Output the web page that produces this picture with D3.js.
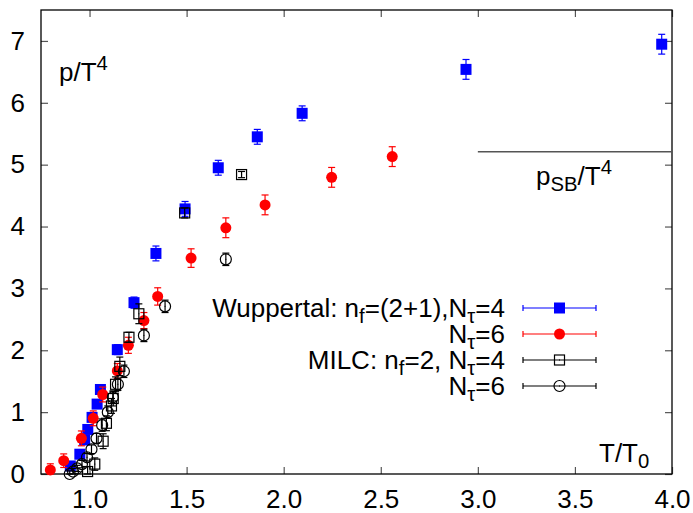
<!DOCTYPE html>
<html>
<head>
<meta charset="utf-8">
<script src="https://cdn.jsdelivr.net/npm/d3@7"></script>
<style>
  body { margin: 0; background: #fff; }
  svg text { font-family: "Liberation Sans", Arial, sans-serif; fill: #000; }
</style>
</head>
<body>
<div id="chart"></div>
<script>
// Wuppertal, nf=2+1, Nt=4 (blue squares)
const wup4T = [0.901, 0.95, 0.975, 0.991, 1.013, 1.039, 1.056, 1.143, 1.229, 1.342, 1.492, 1.663, 1.864, 2.095, 2.939, 3.947];
const wup4P = [0.13, 0.32, 0.55, 0.72, 0.915, 1.13, 1.366, 2.01, 2.77, 3.565, 4.285, 4.95, 5.45, 5.83, 6.54, 6.947];
const wup4E = [0.05, 0.05, 0.06, 0.06, 0.06, 0.07, 0.07, 0.08, 0.09, 0.12, 0.12, 0.12, 0.12, 0.12, 0.16, 0.16];

// Wuppertal, Nt=6 (red circles)
const wup6T = [0.798, 0.867, 0.958, 1.019, 1.068, 1.143, 1.2, 1.28, 1.351, 1.523, 1.702, 1.904, 2.247, 2.559];
const wup6P = [0.065, 0.215, 0.576, 0.9, 1.285, 1.666, 2.08, 2.48, 2.87, 3.49, 3.98, 4.35, 4.795, 5.13];
const wup6E = [0.1, 0.11, 0.12, 0.12, 0.12, 0.12, 0.13, 0.13, 0.14, 0.15, 0.16, 0.16, 0.16, 0.16];

// MILC, nf=2, Nt=4 (open squares)
const milc4T = [0.99, 1.027, 1.07, 1.087, 1.113, 1.122, 1.134, 1.156, 1.203, 1.254, 1.49, 1.783];
const milc4P = [0.04, 0.16, 0.53, 0.82, 1.10, 1.22, 1.45, 1.74, 2.21, 2.59, 4.22, 4.84];
const milc4E = [0.08, 0.1, 0.12, 0.12, 0.12, 0.12, 0.12, 0.15, 0.08, 0.16, 0.08, 0.05];

// MILC, Nt=6 (open circles)
const milc6T = [0.898, 0.915, 0.936, 0.961, 0.987, 1.01, 1.036, 1.065, 1.094, 1.12, 1.146, 1.177, 1.28, 1.389, 1.702];
const milc6P = [0.0, 0.04, 0.09, 0.16, 0.27, 0.40, 0.576, 0.79, 1.0, 1.24, 1.45, 1.66, 2.24, 2.71, 3.47];
const milc6E = [0.05, 0.05, 0.05, 0.06, 0.06, 0.07, 0.08, 0.1, 0.1, 0.1, 0.1, 0.1, 0.1, 0.1, 0.1];

// Stefan-Boltzmann limit and ticks
const sbValue = 5.209;
const sbRange = [3.0, 4.0];
const xTicks = [1.0, 1.5, 2.0, 2.5, 3.0, 3.5, 4.0];
const yTicks = [0, 1, 2, 3, 4, 5, 6, 7];

const width = 693, height = 513;
const plot = { left: 41, right: 672, top: 10, bottom: 474 };
const fontSize = 26;

const svg = d3.select("#chart").append("svg")
    .attr("width", width)
    .attr("height", height);

const x = d3.scaleLinear().domain([0.75, 4.0]).range([plot.left, plot.right]);
const y = d3.scaleLinear().domain([0, 7.5]).range([plot.bottom, plot.top]);

// ejes con ticks hacia dentro (estilo gnuplot)
const gx = svg.append("g")
    .attr("transform", `translate(0,${plot.bottom})`)
    .call(d3.axisBottom(x).tickValues(xTicks).tickFormat(d3.format(".1f")).tickSize(-7).tickPadding(16));
const gy = svg.append("g")
    .attr("transform", `translate(${plot.left},0)`)
    .call(d3.axisLeft(y).tickValues(yTicks).tickFormat(d3.format("d")).tickSize(-7).tickPadding(16));
const gt = svg.append("g")
    .attr("transform", `translate(0,${plot.top})`)
    .call(d3.axisTop(x).tickValues(xTicks).tickFormat("").tickSize(-7));
const gr = svg.append("g")
    .attr("transform", `translate(${plot.right},0)`)
    .call(d3.axisRight(y).tickValues(yTicks).tickFormat("").tickSize(-7));

[gx, gy, gt, gr].forEach(g => {
    g.select(".domain").remove();
    g.selectAll(".tick line").attr("stroke", "#555").attr("stroke-width", 1.2);
    g.selectAll(".tick text").attr("font-size", fontSize).attr("font-family", "Liberation Sans, Arial, sans-serif").attr("fill", "#000");
});

// marco
svg.append("rect")
    .attr("x", plot.left).attr("y", plot.top)
    .attr("width", plot.right - plot.left).attr("height", plot.bottom - plot.top)
    .attr("fill", "none").attr("stroke", "#000").attr("stroke-width", 1.3);

// línea SB
svg.append("line")
    .attr("x1", x(sbRange[0])).attr("x2", x(sbRange[1]))
    .attr("y1", y(sbValue)).attr("y2", y(sbValue))
    .attr("stroke", "#555").attr("stroke-width", 1.3);

const series = [
    { T: wup4T, P: wup4P, E: wup4E, color: "#0000ff", shape: "fsquare" },
    { T: wup6T, P: wup6P, E: wup6E, color: "#ff0000", shape: "fcircle" },
    { T: milc4T, P: milc4P, E: milc4E, color: "#000", shape: "osquare" },
    { T: milc6T, P: milc6P, E: milc6E, color: "#000", shape: "ocircle" }
];

function drawMarker(g, shape, color, cx, cy) {
    if (shape === "fsquare") {
        g.append("rect").attr("x", cx - 5.5).attr("y", cy - 5.5).attr("width", 11).attr("height", 11).attr("fill", color);
    } else if (shape === "fcircle") {
        g.append("circle").attr("cx", cx).attr("cy", cy).attr("r", 5.5).attr("fill", color);
    } else if (shape === "osquare") {
        g.append("rect").attr("x", cx - 5).attr("y", cy - 5).attr("width", 10).attr("height", 10)
            .attr("fill", "none").attr("stroke", color).attr("stroke-width", 1.2);
        g.append("rect").attr("x", cx - 0.5).attr("y", cy - 0.5).attr("width", 1).attr("height", 1).attr("fill", color);
    } else {
        g.append("circle").attr("cx", cx).attr("cy", cy).attr("r", 5.5)
            .attr("fill", "none").attr("stroke", color).attr("stroke-width", 1.2);
        g.append("rect").attr("x", cx - 0.5).attr("y", cy - 0.5).attr("width", 1).attr("height", 1).attr("fill", color);
    }
}

series.forEach(s => {
    const g = svg.append("g");
    const pts = s.T.map((t, i) => ({ t: t, p: s.P[i], e: s.E[i] }));
    pts.forEach(d => {
        const cx = x(d.t), cy = y(d.p);
        const y1 = y(d.p + d.e), y2 = y(Math.max(d.p - d.e, 0));
        g.append("line").attr("x1", cx).attr("x2", cx).attr("y1", y1).attr("y2", y2)
            .attr("stroke", s.color).attr("stroke-width", 1.2);
        [y1, y2].forEach(yy => g.append("line").attr("x1", cx - 3.5).attr("x2", cx + 3.5)
            .attr("y1", yy).attr("y2", yy).attr("stroke", s.color).attr("stroke-width", 1.2));
        drawMarker(g, s.shape, s.color, cx, cy);
    });
});

// leyenda
const legendRows = [
    [["Wuppertal: n", 0], ["f", 1], ["=(2+1),N", 0], ["τ", 1], ["=4", 0]],
    [["N", 0], ["τ", 1], ["=6", 0]],
    [["MILC: n", 0], ["f", 1], ["=2, N", 0], ["τ", 1], ["=4", 0]],
    [["N", 0], ["τ", 1], ["=6", 0]]
];
const legendY = [308, 334, 360, 386];
const lx0 = 523, lx1 = 596;

// texto con subíndices (1) y superíndices (2)
function richText(parent, parts, xPos, yPos, anchor, size) {
    const t = parent.append("text").attr("x", xPos).attr("y", yPos)
        .attr("text-anchor", anchor).attr("font-size", size);
    let shift = 0;
    parts.forEach(([str, kind]) => {
        let target = kind === 1 ? 6 : kind === 2 ? -11 : 0;
        t.append("tspan").attr("dy", target - shift)
            .attr("font-size", kind ? size * 0.78 : size).text(str);
        shift = target;
    });
    return t;
}

legendRows.forEach((parts, i) => {
    const ly = legendY[i];
    richText(svg, parts, 505, ly + 9, "end", fontSize);
    const s = series[i];
    const g = svg.append("g");
    g.append("line").attr("x1", lx0).attr("x2", lx1).attr("y1", ly).attr("y2", ly)
        .attr("stroke", s.color).attr("stroke-width", 1.2);
    [lx0, lx1].forEach(xx => g.append("line").attr("x1", xx).attr("x2", xx)
        .attr("y1", ly - 3).attr("y2", ly + 3).attr("stroke", s.color).attr("stroke-width", 1.2));
    drawMarker(g, s.shape, s.color, (lx0 + lx1) / 2, ly);
});

// etiquetas
richText(svg, [["p/T", 0], ["4", 2]], 59, 81, "start", fontSize);
richText(svg, [["p", 0], ["SB", 1], ["/T", 0], ["4", 2]], 536, 185, "start", fontSize);
richText(svg, [["T/T", 0], ["0", 1]], 599, 462, "start", fontSize);
</script>
</body>
</html>
